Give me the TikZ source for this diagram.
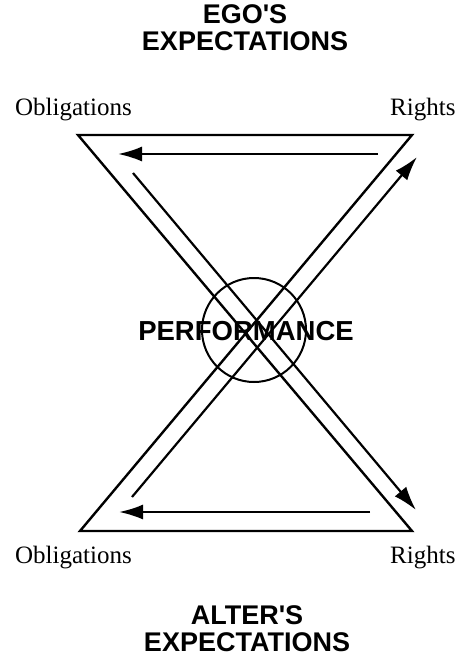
\documentclass[tikz,border=0pt]{standalone}
\usepackage{fontspec}
\setmainfont{Liberation Serif}
\newfontfamily\headfont{Liberation Sans}
\usetikzlibrary{arrows.meta}
\begin{document}
\begin{tikzpicture}[x=1pt,y=-1pt,
        lbl/.style={font=\fontsize{25}{25}\selectfont,inner sep=0pt},
        head/.style={font=\headfont\bfseries\fontsize{27}{27}\selectfont,align=center,inner sep=0pt},
        edge/.style={line width=2.4pt},
        arr/.style={line width=2.2pt,-{Latex[length=24pt,width=15pt]}}]
        \useasboundingbox (0,0) rectangle (463,659);
        \coordinate (tl) at (78,135);
        \coordinate (tr) at (412,135);
        \coordinate (bl) at (80,531);
        \coordinate (br) at (412,531);
        \coordinate (topstart) at (378,154);
        \coordinate (topend) at (118,154);
        \coordinate (botstart) at (370,512);
        \coordinate (botend) at (119,512);
        \coordinate (downstart) at (133,173);
        \coordinate (downend) at (416,510);
        \coordinate (upstart) at (132,497);
        \coordinate (upend) at (417,157);
        \draw[edge] (tl) -- (tr) -- (bl) -- (br) -- cycle;
        \draw[arr] (topstart) -- (topend);
        \draw[arr] (botstart) -- (botend);
        \draw[arr] (downstart) -- (downend);
        \draw[arr] (upstart) -- (upend);
        \node[draw,circle,line width=2pt,inner sep=0pt,minimum size=104pt] (ring) at (254,330) {};
        \node[head,font=\headfont\bfseries\fontsize{27.5}{27}\selectfont] (perf) at (246,331) {PERFORMANCE};
        \node[head] (ego) at (245,27.5) {EGO'S\\EXPECTATIONS};
        \node[head] (alter) at (247,628.5) {ALTER'S\\EXPECTATIONS};
        \node[lbl,anchor=base east] (obltop) at (132,115) {Obligations};
        \node[lbl,anchor=base west] (rightstop) at (390,115) {Rights};
        \node[lbl,anchor=base east] (oblbot) at (132,563) {Obligations};
        \node[lbl,anchor=base west] (rightsbot) at (390,563) {Rights};
\end{tikzpicture}
\end{document}
